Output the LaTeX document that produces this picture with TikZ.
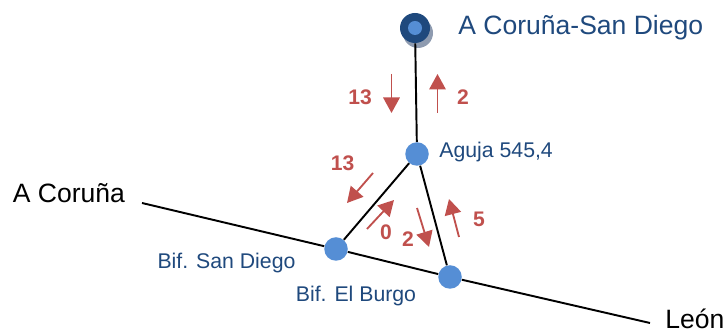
\documentclass[tikz,border=0pt]{standalone}
\usepackage{fontspec}
\setmainfont{Liberation Sans}
\usepackage{xcolor}
\usetikzlibrary{arrows.meta}
\definecolor{flowred}{HTML}{C0504D}
\definecolor{dotblue}{HTML}{558ED5}
\definecolor{textblue}{HTML}{1F497D}
\definecolor{shadowblue}{HTML}{8E9BB0}
\tikzset{
  dot/.style={circle, fill=dotblue, inner sep=0pt, minimum size=0.47cm},
  track/.style={line width=1.1pt, black},
  flow/.style={line width=1.05pt, flowred, -{Triangle[length=0.31cm, width=0.33cm]}},
  count/.style={text=flowred, font=\fontsize{12}{13}\selectfont\bfseries},
  place/.style={text=textblue, font=\fontsize{12.1}{14}\selectfont},
  city/.style={inner sep=0pt, anchor=base west, font=\fontsize{15.1}{17}\selectfont}
}

\begin{document}
\begin{tikzpicture}
\useasboundingbox (0,0) rectangle (14.52,6.68);

% terminal
\node[circle, fill=shadowblue, inner sep=0pt, minimum size=0.6cm] at (8.36,6.02) {};
\node[circle, fill=textblue, inner sep=0pt, minimum size=0.6cm] (top) at (8.30,6.12) {};
\node[circle, fill=dotblue, inner sep=0pt, minimum size=0.28cm] at (top) {};

% junctions
\node[dot] (aguja) at (8.34,3.60) {};
\node[dot] (sandiego) at (6.72,1.70) {};
\node[dot] (burgo) at (9.00,1.14) {};
\coordinate (west) at (2.84,2.62);
\coordinate (east) at (13.00,0.22);

% tracks
\draw[track] (top)--(aguja);
\draw[track] (aguja)--(sandiego);
\draw[track] (aguja)--(burgo);
\draw[track] (west)--(sandiego)--(burgo)--(east);

% flow arrows
\foreach \name/\xa/\ya/\xb/\yb in {a/7.83/5.20/7.83/4.42, b/8.75/4.42/8.75/5.20, c/7.46/3.22/6.94/2.62,
    d/7.34/2.10/7.88/2.68, e/8.34/2.52/8.58/1.74, f/9.18/1.94/8.98/2.70}{
  \coordinate (\name1) at (\xa,\ya);
  \coordinate (\name2) at (\xb,\yb);
  \draw[flow] (\name1)--(\name2);
}

% counts
\node[count] (n1) at (7.20,4.74) {13};
\node[count] (n2) at (9.26,4.74) {2};
\node[count] (n3) at (6.85,3.42) {13};
\node[count] (n4) at (7.72,2.04) {0};
\node[count] (n5) at (8.16,1.90) {2};
\node[count] (n6) at (9.58,2.30) {5};

% names
\node[city, text=textblue] (lblTop) at (9.16,5.98) {A Coruña-San Diego};
\node[city] (lblWest) at (0.25,2.62) {A Coruña};
\node[city] (lblEast) at (13.30,0.10) {León};
\node[place, anchor=west, inner sep=0pt] (lblAguja) at (8.78,3.64) {Aguja 545,4};
\node[place] (lblSan) at (4.53,1.42) {Bif. San Diego};
\node[place] (lblBurgo) at (7.12,0.76) {Bif. El Burgo};
\end{tikzpicture}
\end{document}
